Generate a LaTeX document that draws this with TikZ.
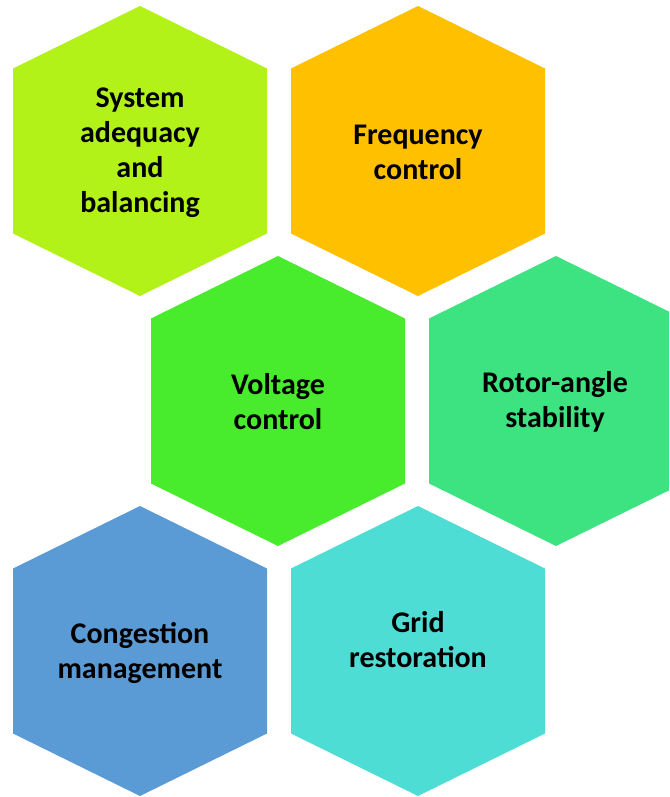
\documentclass[tikz,border=0pt]{standalone}
\usepackage{fontspec}
\setmainfont{Carlito}
\usepackage{tikz}
\usepackage{xcolor}

\definecolor{limecell}{HTML}{B3F218}
\definecolor{orangecell}{HTML}{FFC000}
\definecolor{greencell}{HTML}{48EC2C}
\definecolor{mintcell}{HTML}{3DE381}
\definecolor{bluecell}{HTML}{5B9BD5}
\definecolor{cyancell}{HTML}{4DDDD4}

\tikzset{
  celltext/.style={font=\bfseries\fontsize{30}{35}\selectfont,align=center,text=black,inner sep=0pt}
}

\begin{document}
\begin{tikzpicture}[x=1pt,y=-1pt]
\useasboundingbox (0,0) rectangle (669,797);
\clip (0,0) rectangle (669,797);
% hexagon cells, half width 127, half height 145
\foreach \cx/\cy/\col in {140/151/limecell,418/151/orangecell,278/401/greencell,556/401/mintcell,140/651/bluecell,418/651/cyancell}{
  \fill[\col] (\cx,\cy-145) -- (\cx+127,\cy-82.5) -- (\cx+127,\cy+82.5) -- (\cx,\cy+145)
    -- (\cx-127,\cy+82.5) -- (\cx-127,\cy-82.5) -- cycle;
}
\node[celltext] (adequacy) at (140,153) {System\\adequacy\\and\\balancing};
\node[celltext] (frequency) at (418,152) {Frequency\\control};
\node[celltext] (voltage) at (278,402) {Voltage\\control};
\node[celltext] (rotor) at (555,402) {Rotor-angle\\stability};
\node[celltext] (congestion) at (140,653) {Congestion\\management};
\node[celltext] (restoration) at (418,640) {Grid\\restoration};
\end{tikzpicture}
\end{document}
